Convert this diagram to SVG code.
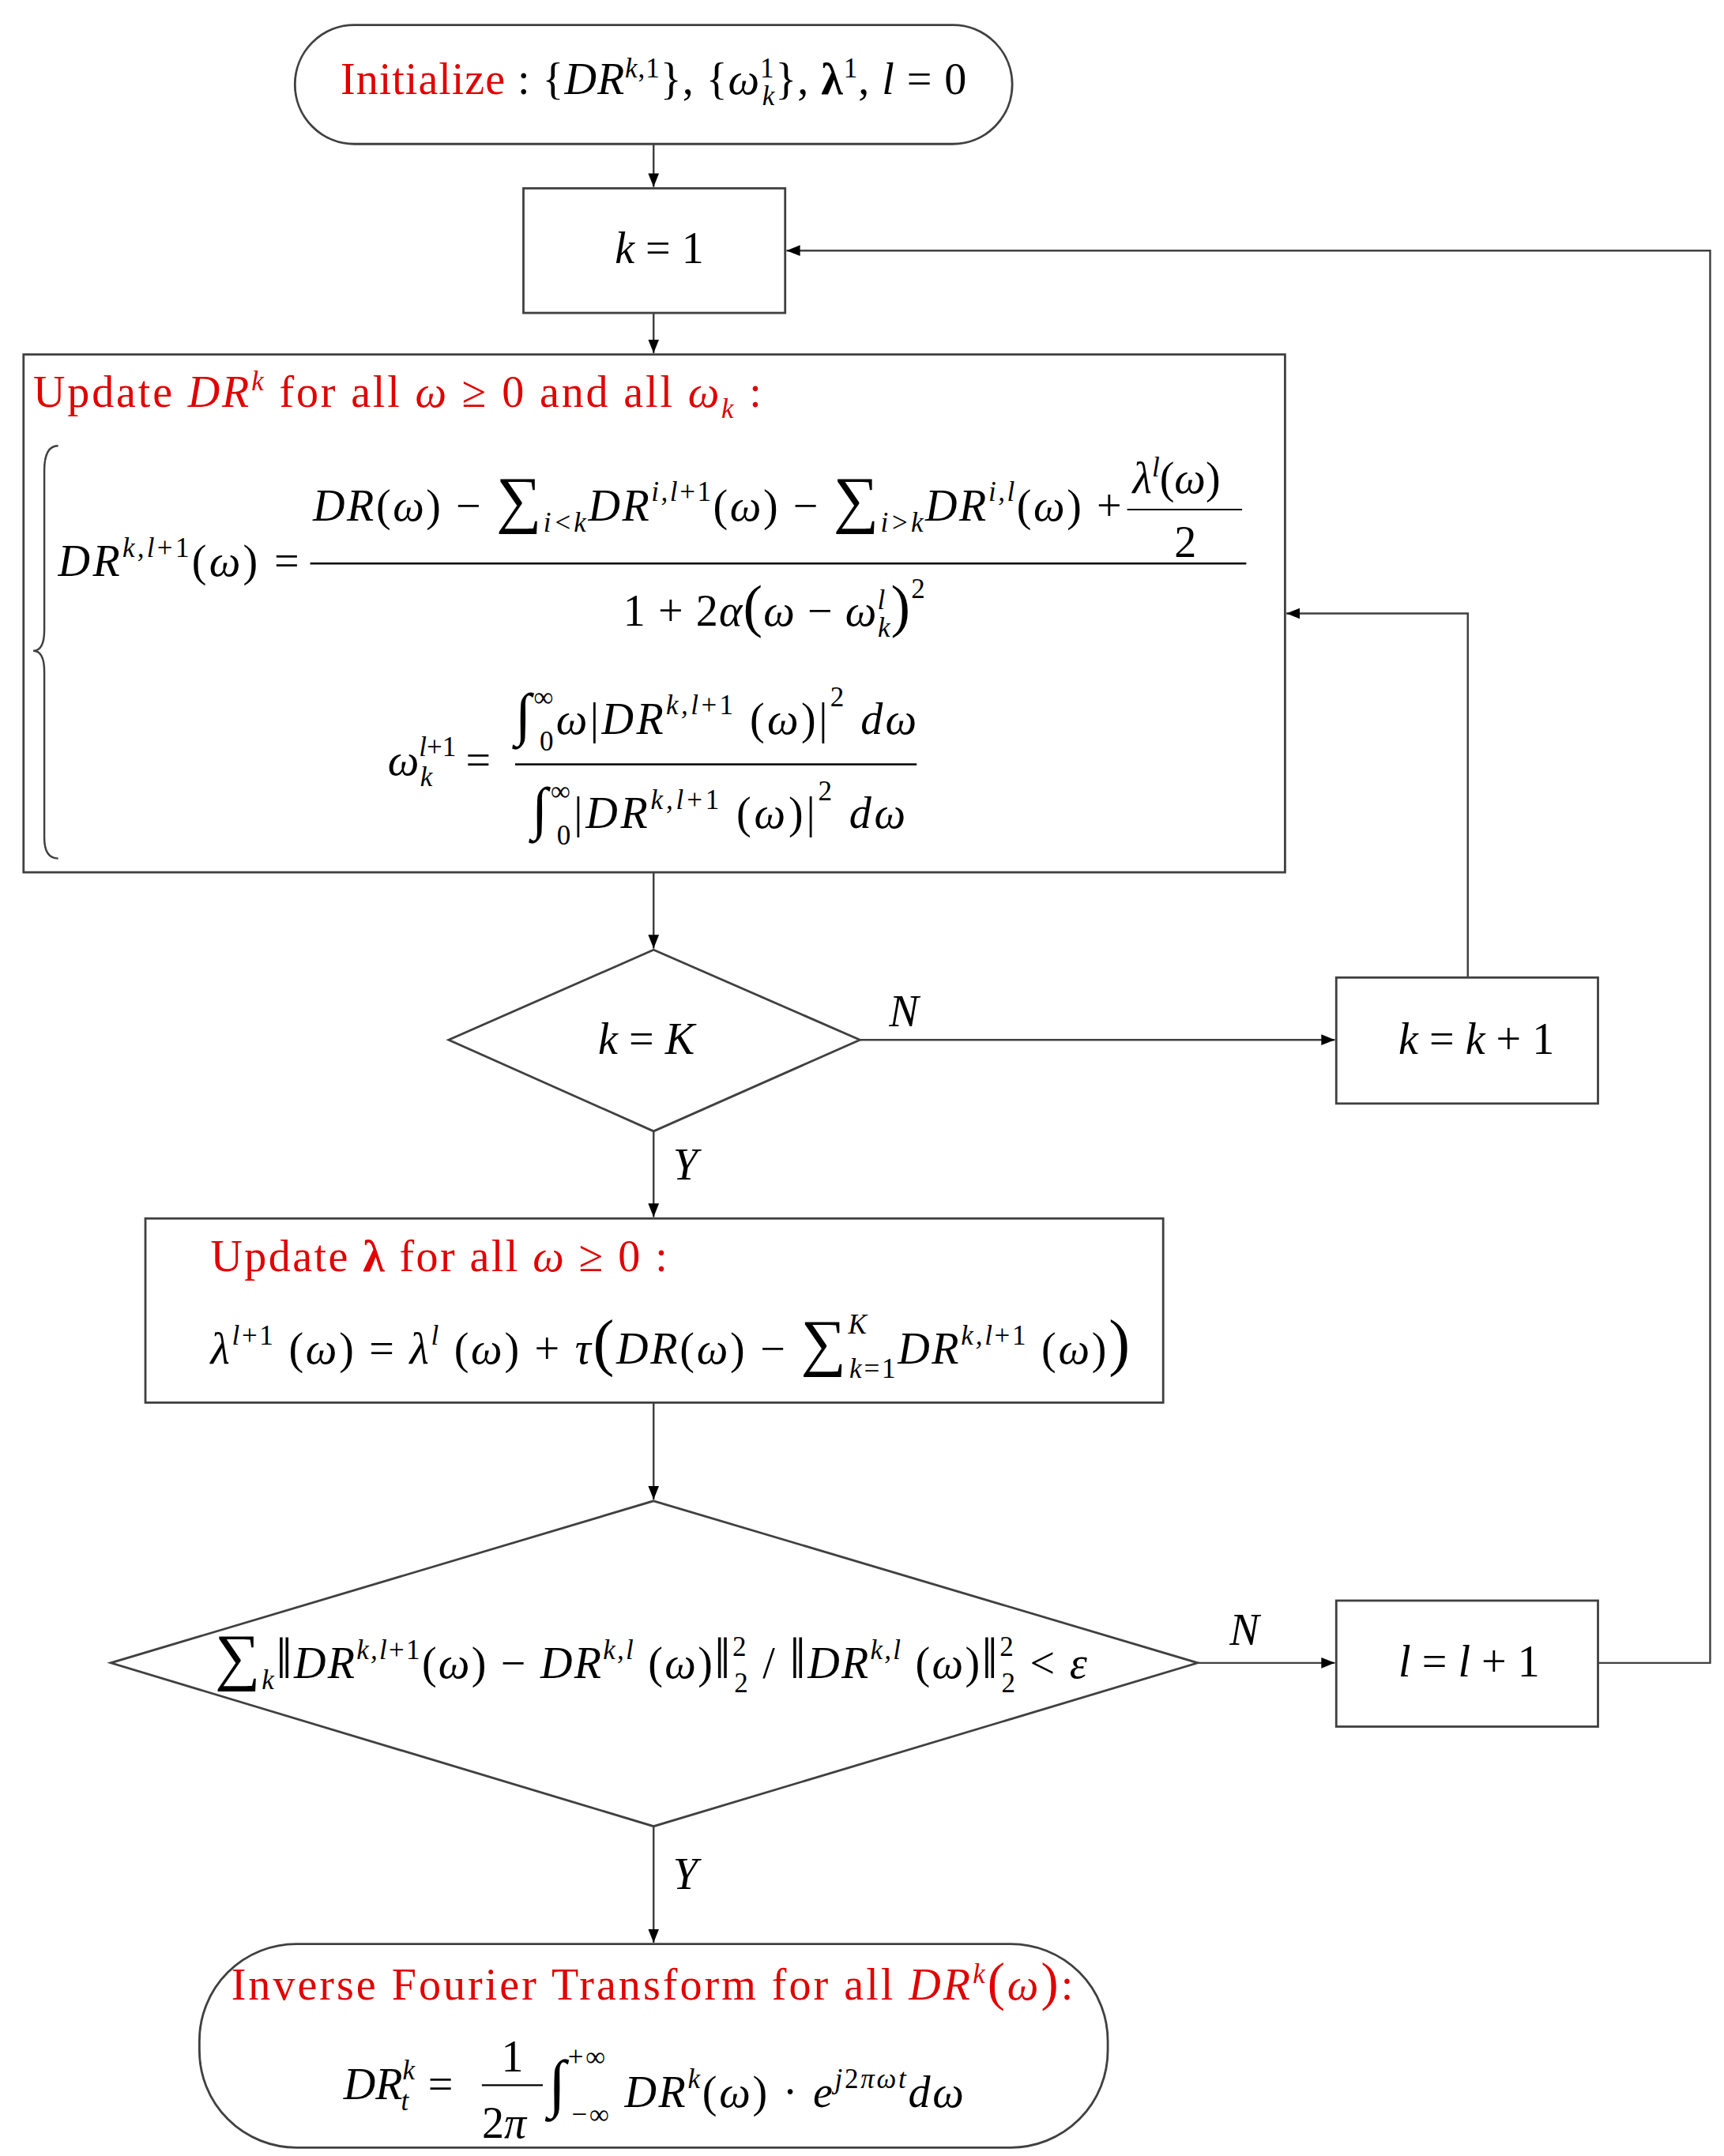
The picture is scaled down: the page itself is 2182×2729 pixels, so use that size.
<svg xmlns="http://www.w3.org/2000/svg" width="2182" height="2729" viewBox="0 0 2182 2729">
<defs>
<marker id="a" viewBox="0 0 10 10" refX="10" refY="5" markerWidth="7" markerHeight="7" orient="auto"><path d="M0,1 L10,5 L0,9 z" fill="#000"/></marker>
<style>
.s{fill:#fff;stroke:#404040;stroke-width:1.6}
.c{fill:none;stroke:#404040;stroke-width:1.4;marker-end:url(#a)}
text{font-family:"Liberation Serif","Times New Roman",serif;font-size:32px;fill:#000}
.r{fill:#e00000}
.i{font-style:italic}
.sm{font-size:20px}
.bg{font-size:46px}
</style>
</defs>
<rect width="2182" height="2729" fill="#fff"/>
<g transform="scale(1.7526)">
<g id="connectors">
<line class="c" x1="472" y1="104" x2="472" y2="135"/>
<line class="c" x1="472" y1="226" x2="472" y2="255"/>
<line class="c" x1="472" y1="630" x2="472" y2="685"/>
<line class="c" x1="472" y1="817" x2="472" y2="879"/>
<line class="c" x1="472" y1="1013" x2="472" y2="1083"/>
<line class="c" x1="472" y1="1319" x2="472" y2="1403"/>
<line class="c" x1="621" y1="751" x2="964" y2="751"/>
<line class="c" x1="865" y1="1201" x2="964" y2="1201"/>
<polyline class="c" points="1154,1201 1235,1201 1235,181 568,181"/>
<polyline class="c" points="1060,706 1060,443 929,443"/>
<text x="642" y="741" class="i" font-size="24">N</text>
<text x="888" y="1188" class="i" font-size="24">N</text>
<text x="486" y="852" class="i" font-size="24">Y</text>
<text x="486" y="1364" class="i" font-size="24">Y</text>
</g>
<g id="init">
<rect class="s" x="213" y="18" width="518" height="86" rx="43"/>
<text x="246" y="68" textLength="452" lengthAdjust="spacing"><tspan class="r">Initialize</tspan><tspan> : {</tspan><tspan class="i">DR</tspan><tspan class="i sm" dy="-12">k</tspan><tspan class="sm" dy="0">,1</tspan><tspan dy="12">}, {</tspan><tspan class="i">ω</tspan><tspan class="sm" dy="-12">1</tspan><tspan class="i sm" dx="-9" dy="20">k</tspan><tspan dy="-8">}, </tspan><tspan font-weight="bold">λ</tspan><tspan class="sm" dy="-12">1</tspan><tspan dy="12">, </tspan><tspan class="i">l</tspan><tspan> = 0</tspan></text>
</g>
<g id="k1">
<rect class="s" x="378" y="136" width="189" height="90"/>
<text x="444" y="190"><tspan class="i">k</tspan> = 1</text>
</g>
<g id="update">
<rect class="s" x="17" y="256" width="911" height="374"/>
<text x="24" y="294" textLength="526" lengthAdjust="spacing"><tspan class="r">Update </tspan><tspan class="r i">DR</tspan><tspan class="r i sm" dy="-12">k</tspan><tspan class="r" dy="12">  for all </tspan><tspan class="r i">ω</tspan><tspan class="r"> ≥ 0 and all </tspan><tspan class="r i">ω</tspan><tspan class="r i sm" dy="8">k</tspan><tspan class="r" dy="-8"> :</tspan></text>
<path d="M42,322 Q32,322 32,340 L32,455 Q32,470 24,470 Q32,470 32,485 L32,605 Q32,620 42,620" fill="none" stroke="#404040" stroke-width="1.4"/>
<text x="42" y="416" textLength="174" lengthAdjust="spacing"><tspan class="i">DR</tspan><tspan class="i sm" dy="-14">k,l</tspan><tspan class="sm">+1</tspan><tspan dy="14">(</tspan><tspan class="i">ω</tspan><tspan>) =</tspan></text>
<line x1="224" y1="407" x2="900" y2="407" stroke="#000" stroke-width="1.4"/>
<text x="226" y="376" textLength="584" lengthAdjust="spacing"><tspan class="i">DR</tspan>(<tspan class="i">ω</tspan>) − <tspan class="bg">∑</tspan><tspan class="i sm" dy="8">i&lt;k</tspan><tspan class="i" dy="-8">DR</tspan><tspan class="i sm" dy="-14">i,l</tspan><tspan class="sm">+1</tspan><tspan dy="14">(</tspan><tspan class="i">ω</tspan>) − <tspan class="bg">∑</tspan><tspan class="i sm" dy="8">i&gt;k</tspan><tspan class="i" dy="-8">DR</tspan><tspan class="i sm" dy="-14">i,l</tspan><tspan dy="14">(</tspan><tspan class="i">ω</tspan>) +</text>
<line x1="814" y1="368" x2="897" y2="368" stroke="#000" stroke-width="1.2"/>
<text x="818" y="356"><tspan class="i">λ</tspan><tspan class="i sm" dy="-12">l</tspan><tspan dy="12">(</tspan><tspan class="i">ω</tspan>)</text>
<text x="848" y="402">2</text>
<text x="450" y="452" textLength="218" lengthAdjust="spacing">1 + 2<tspan class="i">α</tspan><tspan font-size="42">(</tspan><tspan class="i">ω</tspan> − <tspan class="i">ω</tspan><tspan class="i sm" dy="-12">l</tspan><tspan class="i sm" dx="-6" dy="20">k</tspan><tspan font-size="42" dy="-8">)</tspan><tspan class="sm" dy="-20">2</tspan></text>
<text x="280" y="560"><tspan class="i">ω</tspan><tspan class="i sm" dy="-14">l</tspan><tspan class="sm">+1</tspan><tspan class="i sm" dx="-26" dy="22">k</tspan><tspan dx="24" dy="-8">=</tspan></text>
<line x1="372" y1="552" x2="662" y2="552" stroke="#000" stroke-width="1.4"/>
<text x="372" y="530" textLength="290" lengthAdjust="spacing"><tspan font-size="42">∫</tspan><tspan class="sm" dy="-20">∞</tspan><tspan class="sm" dx="-12" dy="32">0</tspan><tspan class="i" dy="-12">ω</tspan>|<tspan class="i">DR</tspan><tspan class="i sm" dy="-14">k,l</tspan><tspan class="sm">+1</tspan><tspan dy="14"> (</tspan><tspan class="i">ω</tspan>)|<tspan class="sm" dy="-20">2</tspan><tspan class="i" dy="20"> dω</tspan></text>
<text x="384" y="598" textLength="270" lengthAdjust="spacing"><tspan font-size="42">∫</tspan><tspan class="sm" dy="-20">∞</tspan><tspan class="sm" dx="-12" dy="32">0</tspan><tspan dy="-12">|</tspan><tspan class="i">DR</tspan><tspan class="i sm" dy="-14">k,l</tspan><tspan class="sm">+1</tspan><tspan dy="14"> (</tspan><tspan class="i">ω</tspan>)|<tspan class="sm" dy="-20">2</tspan><tspan class="i" dy="20"> dω</tspan></text>
</g>
<g id="kK">
<polygon class="s" points="472,686 621,751 472,817 324,751"/>
<text x="432" y="761"><tspan class="i">k</tspan> = <tspan class="i">K</tspan></text>
</g>
<g id="kk1">
<rect class="s" x="965" y="706" width="189" height="91"/>
<text x="1010" y="761"><tspan class="i">k</tspan> = <tspan class="i">k</tspan> + 1</text>
</g>
<g id="lambda">
<rect class="s" x="105" y="880" width="735" height="133"/>
<text x="152" y="918" textLength="330" lengthAdjust="spacing"><tspan class="r">Update  </tspan><tspan class="r" font-weight="bold">λ</tspan><tspan class="r"> for all </tspan><tspan class="r i">ω</tspan><tspan class="r"> ≥ 0 :</tspan></text>
<text x="152" y="985" textLength="664" lengthAdjust="spacing"><tspan class="i">λ</tspan><tspan class="i sm" dy="-14">l</tspan><tspan class="sm">+1</tspan><tspan dy="14"> (</tspan><tspan class="i">ω</tspan>) = <tspan class="i">λ</tspan><tspan class="i sm" dy="-14">l</tspan><tspan dy="14"> (</tspan><tspan class="i">ω</tspan>) + <tspan class="i">τ</tspan><tspan font-size="46">(</tspan><tspan class="i">DR</tspan>(<tspan class="i">ω</tspan>) − <tspan class="bg">∑</tspan><tspan class="i sm" dy="-22">K</tspan><tspan class="i sm" dx="-14" dy="32">k</tspan><tspan class="sm">=1</tspan><tspan class="i" dy="-10">DR</tspan><tspan class="i sm" dy="-14">k,l</tspan><tspan class="sm">+1</tspan><tspan dy="14"> (</tspan><tspan class="i">ω</tspan>)<tspan font-size="46">)</tspan></text>
</g>
<g id="conv">
<polygon class="s" points="472,1084 865,1201 472,1319 80,1201"/>
<text x="155" y="1212" textLength="630" lengthAdjust="spacing"><tspan class="bg">∑</tspan><tspan class="i sm" dy="8">k</tspan><tspan font-size="42" dy="-8">‖</tspan><tspan class="i">DR</tspan><tspan class="i sm" dy="-14">k,l</tspan><tspan class="sm">+1</tspan><tspan dy="14">(</tspan><tspan class="i">ω</tspan>) − <tspan class="i">DR</tspan><tspan class="i sm" dy="-14">k,l</tspan><tspan dy="14"> (</tspan><tspan class="i">ω</tspan>)<tspan font-size="42">‖</tspan><tspan class="sm" dy="-16">2</tspan><tspan class="sm" dx="-10" dy="26">2</tspan><tspan dy="-10"> / </tspan><tspan font-size="42">‖</tspan><tspan class="i">DR</tspan><tspan class="i sm" dy="-14">k,l</tspan><tspan dy="14"> (</tspan><tspan class="i">ω</tspan>)<tspan font-size="42">‖</tspan><tspan class="sm" dy="-16">2</tspan><tspan class="sm" dx="-10" dy="26">2</tspan><tspan dy="-10"> &lt; </tspan><tspan class="i">ε</tspan></text>
</g>
<g id="ll1">
<rect class="s" x="965" y="1156" width="189" height="91"/>
<text x="1010" y="1211"><tspan class="i">l</tspan> = <tspan class="i">l</tspan> + 1</text>
</g>
<g id="ift">
<rect class="s" x="144" y="1404" width="656" height="147" rx="70"/>
<text x="167" y="1444" textLength="608" lengthAdjust="spacing"><tspan class="r">Inverse  Fourier  Transform  for  all </tspan><tspan class="r i">DR</tspan><tspan class="r i sm" dy="-12">k</tspan><tspan class="r" dy="12" font-size="38">(</tspan><tspan class="r i">ω</tspan><tspan class="r" font-size="38">)</tspan><tspan class="r">:</tspan></text>
<text x="248" y="1516"><tspan class="i">DR</tspan><tspan class="i sm" dy="-14">k</tspan><tspan class="i sm" dx="-10" dy="22">t</tspan><tspan dx="14" dy="-8">=</tspan></text>
<line x1="348" y1="1506" x2="392" y2="1506" stroke="#000" stroke-width="1.2"/>
<text x="362" y="1496">1</text>
<text x="348" y="1544">2<tspan class="i">π</tspan></text>
<text x="396" y="1520" textLength="300" lengthAdjust="spacing"><tspan font-size="46">∫</tspan><tspan class="sm" dy="-28">+∞</tspan><tspan class="sm" dx="-26" dy="42">−∞</tspan><tspan class="i" dy="-12"> DR</tspan><tspan class="i sm" dy="-14">k</tspan><tspan dy="14">(</tspan><tspan class="i">ω</tspan>) · <tspan class="i">e</tspan><tspan class="i sm" dy="-14">j</tspan><tspan class="sm">2</tspan><tspan class="i sm">πωt</tspan><tspan class="i" dy="14">dω</tspan></text>
</g>
</g>
</svg>
